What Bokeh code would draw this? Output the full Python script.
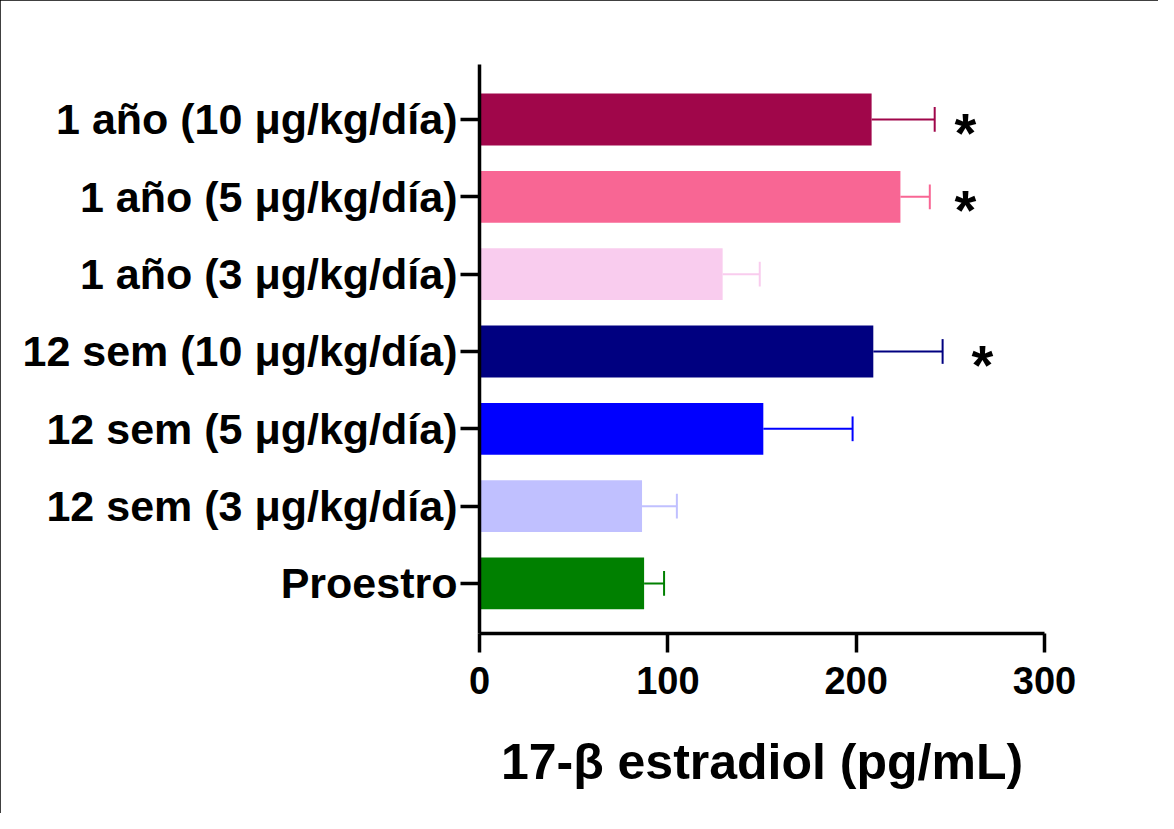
from bokeh.plotting import figure
from bokeh.models import ColumnDataSource, Range1d, FixedTicker
from bokeh.embed import file_html
from bokeh.resources import INLINE
from bokeh.core.properties import value

# ---- data (bottom to top) ----
categories = [
    "Proestro",
    "12 sem (3 μg/kg/día)",
    "12 sem (5 μg/kg/día)",
    "12 sem (10 μg/kg/día)",
    "1 año (3 μg/kg/día)",
    "1 año (5 μg/kg/día)",
    "1 año (10 μg/kg/día)",
]
means = [87.4, 86.3, 150.7, 209.1, 129.1, 223.5, 208.2]
sem = [10.6, 18.5, 47.4, 36.8, 19.7, 15.6, 33.5]
colors = ["#008000", "#C0C0FF", "#0000FF", "#000080", "#F9CCEE", "#F86694", "#A0064A"]
star_rows = ["12 sem (10 μg/kg/día)", "1 año (5 μg/kg/día)", "1 año (10 μg/kg/día)"]
star_x = [267, 258, 258]
x_ticks = [0, 100, 200, 300]

FONT = "Liberation Sans"

ypos = list(range(len(categories)))
upper = [m + s for m, s in zip(means, sem)]
cap_h = 0.16
src = ColumnDataSource(dict(
    y=ypos, mean=means, upper=upper, color=colors,
    y0=[y - cap_h for y in ypos], y1=[y + cap_h for y in ypos],
))

p = figure(width=1158, height=813, output_backend="svg", toolbar_location=None,
           x_range=Range1d(0, 300), y_range=Range1d(-0.647, 6.711),
           min_border_left=479, min_border_right=114,
           min_border_top=64, min_border_bottom=180)
p.outline_line_color = None
p.xgrid.visible = False
p.ygrid.visible = False
p.background_fill_color = "white"
p.border_fill_color = "white"
p.styles = {"outline": "2px solid black", "outline-offset": "-2px"}

p.hbar(y="y", left=0, right="mean", height=0.67, fill_color="color",
       line_color=None, source=src)
p.segment(x0="mean", x1="upper", y0="y", y1="y", line_color="color",
          line_width=2, source=src)
p.segment(x0="upper", x1="upper", y0="y0", y1="y1", line_color="color",
          line_width=2, source=src)

star_y = [categories.index(c) for c in star_rows]
p.text(x=star_x, y=star_y, text=["*"] * len(star_x), text_align="center",
       text_baseline="middle", text_font=value(FONT), text_font_style="bold",
       text_font_size="56px", text_color="black", y_offset=13)

for ax in (p.xaxis[0], p.yaxis[0]):
    ax.axis_line_width = 3.5
    ax.axis_line_color = "black"
    ax.major_tick_line_width = 3.5
    ax.major_tick_line_color = "black"
    ax.major_tick_in = 0
    ax.major_tick_out = 19
    ax.minor_tick_line_color = None
    ax.major_label_text_font = FONT
    ax.major_label_text_font_style = "bold"
    ax.major_label_text_color = "black"

p.xaxis.ticker = FixedTicker(ticks=x_ticks)
p.xaxis.major_label_text_font_size = "38px"
p.xaxis.major_label_standoff = 14
p.xaxis.axis_label = "17-β estradiol (pg/mL)"
p.xaxis.axis_label_text_font = FONT
p.xaxis.axis_label_text_font_style = "bold"
p.xaxis.axis_label_text_font_size = "50px"
p.xaxis.axis_label_text_color = "black"
p.xaxis.axis_label_standoff = 37

p.yaxis.ticker = FixedTicker(ticks=ypos)
p.yaxis.major_label_overrides = {i: c for i, c in enumerate(categories)}
p.yaxis.major_label_text_font_size = "43px"
p.yaxis.major_label_standoff = 3

open("out.html", "w").write(file_html(p, INLINE))
